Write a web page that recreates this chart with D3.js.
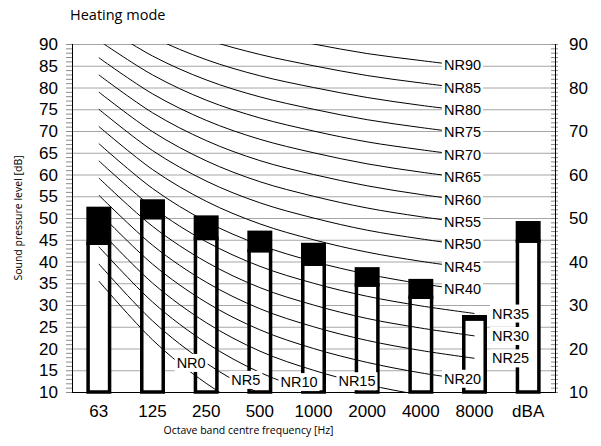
<!DOCTYPE html>
<html>
<head>
<meta charset="utf-8">
<script src="https://cdn.jsdelivr.net/npm/d3@7"></script>
<style>
  body { margin: 0; background: #fff; }
  svg { display: block; }
</style>
</head>
<body>
<div id="container"></div>
<script>
/* DATA */
const categories = ["63", "125", "250", "500", "1000", "2000", "4000", "8000", "dBA"];
const octaveBands = ["63", "125", "250", "500", "1000", "2000", "4000", "8000"];

// level without / with the black top section of each column
const lowerLevel = [44.2, 50.1, 45.3, 42.5, 39.4, 34.6, 31.8, 26.8, 44.7];
const upperLevel = [52.2, 53.9, 50.2, 46.7, 43.9, 38.3, 35.6, 27.3, 48.9];

// NR rating curves, octave band levels 63..8000 Hz
const nrNumbers = [0, 5, 10, 15, 20, 25, 30, 35, 40, 45, 50, 55, 60, 65, 70, 75, 80, 85, 90];
const nrLevels = [
  [35.5, 22.0, 12.0, 4.8, 0.0, -3.5, -6.1, -8.0],
  [39.45, 26.35, 16.65, 9.65, 5.0, 1.55, -0.95, -2.85],
  [43.4, 30.7, 21.3, 14.5, 10.0, 6.6, 4.2, 2.3],
  [47.35, 35.05, 25.95, 19.4, 15.0, 11.7, 9.3, 7.45],
  [51.3, 39.4, 30.6, 24.3, 20.0, 16.8, 14.4, 12.6],
  [55.25, 43.75, 35.25, 29.15, 25.0, 21.85, 19.55, 17.75],
  [59.2, 48.1, 39.9, 34.0, 30.0, 26.9, 24.7, 22.9],
  [63.15, 52.45, 44.55, 38.9, 35.0, 32.0, 29.8, 28.05],
  [67.1, 56.8, 49.2, 43.8, 40.0, 37.1, 34.9, 33.2],
  [71.05, 61.15, 53.85, 48.65, 45.0, 42.15, 40.05, 38.35],
  [75.0, 65.5, 58.5, 53.5, 50.0, 47.2, 45.2, 43.5],
  [78.95, 69.85, 63.15, 58.35, 55.0, 52.3, 50.3, 48.65],
  [82.9, 74.2, 67.8, 63.2, 60.0, 57.4, 55.4, 53.8],
  [86.85, 78.55, 72.45, 68.1, 65.0, 62.45, 60.55, 58.95],
  [90.8, 82.9, 77.1, 73.0, 70.0, 67.5, 65.7, 64.1],
  [94.75, 87.25, 81.75, 77.85, 75.0, 72.6, 70.8, 69.25],
  [98.7, 91.6, 86.4, 82.7, 80.0, 77.7, 75.9, 74.4],
  [102.65, 95.95, 91.05, 87.6, 85.0, 82.75, 81.05, 79.55],
  [106.6, 100.3, 95.7, 92.5, 90.0, 87.8, 86.2, 84.7]
];

// the low curves are labelled where they leave the chart: [band position, dB]
const lowLabelSpots = {0: [1.72, 16.7], 5: [2.74, 12.8], 10: [3.73, 12.3], 15: [4.81, 12.5]};
const rightSideLabels = [25, 30, 35];

const leftTicks = d3.range(10, 91, 5);
const rightTicks = d3.range(10, 91, 10);

/* CONSTANTS AND GLOBALS */
const width = 601,
  height = 446,
  margin = {top: 44, right: 46, bottom: 54, left: 72};

const svg = d3.select("#container")
  .append("svg")
  .attr("width", width)
  .attr("height", height);

// SCALES
const xScale = d3.scaleBand()
  .domain(categories)
  .range([margin.left, width - margin.right]);

const yScale = d3.scaleLinear()
  .domain([10, 90])
  .range([height - margin.bottom, margin.top]);

const bw = xScale.bandwidth();
const cx = c => xScale(c) + bw / 2;
const posX = i => margin.left + bw * (i + 0.5);

svg.append("clipPath").attr("id", "plot")
  .append("rect")
  .attr("x", margin.left).attr("y", margin.top)
  .attr("width", width - margin.left - margin.right)
  .attr("height", height - margin.top - margin.bottom);

// gridlines
svg.append("g")
  .selectAll("line")
  .data(leftTicks.filter(d => d > 10))
  .join("line")
  .attr("x1", margin.left).attr("x2", width - margin.right)
  .attr("y1", d => yScale(d) + 0.5).attr("y2", d => yScale(d) + 0.5)
  .attr("stroke", "#a6a6a6");

// minor ticks
const minor = d3.range(10, 91, 1);
svg.append("g")
  .selectAll("line")
  .data(minor)
  .join("line")
  .attr("x1", margin.left - 6).attr("x2", margin.left)
  .attr("y1", d => yScale(d) + 0.5).attr("y2", d => yScale(d) + 0.5)
  .attr("stroke", "#8c8c8c");
svg.append("g")
  .selectAll("line")
  .data(minor)
  .join("line")
  .attr("x1", width - margin.right - 4).attr("x2", width - margin.right + 3)
  .attr("y1", d => yScale(d) + 0.5).attr("y2", d => yScale(d) + 0.5)
  .attr("stroke", "#8c8c8c");

// columns
const barW = bw * 0.4;
const bars = svg.append("g");
bars.selectAll(".low")
  .data(categories)
  .join("rect")
  .attr("class", "low")
  .attr("x", c => cx(c) - barW / 2)
  .attr("width", barW)
  .attr("y", (c, i) => yScale(lowerLevel[i]))
  .attr("height", (c, i) => yScale(10) - yScale(lowerLevel[i]))
  .attr("fill", "#fff")
  .attr("stroke", "#000")
  .attr("stroke-width", 3.5);
bars.selectAll(".high")
  .data(categories)
  .join("rect")
  .attr("class", "high")
  .attr("x", c => cx(c) - barW / 2)
  .attr("width", barW)
  .attr("y", (c, i) => yScale(upperLevel[i]))
  .attr("height", (c, i) => yScale(lowerLevel[i]) - yScale(upperLevel[i]))
  .attr("fill", "#000")
  .attr("stroke", "#000")
  .attr("stroke-width", 3.5);

// NR curves
const line = d3.line()
  .x((d, i) => cx(octaveBands[i]))
  .y(d => yScale(d))
  .curve(d3.curveCardinal.tension(0));

svg.append("g")
  .attr("clip-path", "url(#plot)")
  .selectAll("path")
  .data(nrLevels)
  .join("path")
  .attr("d", line)
  .attr("fill", "none")
  .attr("stroke", "#000")
  .attr("stroke-width", 1);

// axes lines
svg.append("line")
  .attr("x1", margin.left + 0.5).attr("x2", margin.left + 0.5)
  .attr("y1", margin.top).attr("y2", yScale(10))
  .attr("stroke", "#000");
svg.append("line")
  .attr("x1", width - margin.right + 0.5).attr("x2", width - margin.right + 0.5)
  .attr("y1", margin.top).attr("y2", yScale(10))
  .attr("stroke", "#000");
svg.append("line")
  .attr("x1", margin.left).attr("x2", width - margin.right + 1)
  .attr("y1", yScale(10) + 0.5).attr("y2", yScale(10) + 0.5)
  .attr("stroke", "#000");

// NR labels
const labels = svg.append("g")
  .attr("font-family", "Liberation Sans, Arial, sans-serif")
  .attr("font-size", 14.5);

nrNumbers.forEach((nr, k) => {
  let x, y;
  const last = nrLevels[k][7];
  if (lowLabelSpots[nr]) {
    x = posX(lowLabelSpots[nr][0]);
    y = yScale(lowLabelSpots[nr][1]);
  } else if (rightSideLabels.includes(nr)) {
    x = cx("8000") + 36;
    y = yScale(last);
  } else {
    x = cx("8000") - 12;
    y = yScale(last) - 2;
  }
  const g = labels.append("g");
  const t = g.append("text")
    .attr("x", x).attr("y", y)
    .attr("text-anchor", "middle")
    .attr("dy", "0.35em")
    .text("NR" + nr);
  const b = t.node().getBBox();
  g.insert("rect", "text")
    .attr("x", b.x - 2).attr("y", b.y - 1)
    .attr("width", b.width + 4).attr("height", b.height + 2)
    .attr("fill", "#fff");
});

// tick labels
const tickFont = "Liberation Sans, Arial, sans-serif";
svg.append("g")
  .selectAll("text")
  .data(leftTicks)
  .join("text")
  .attr("x", margin.left - 14)
  .attr("y", d => yScale(d))
  .attr("dy", "0.36em")
  .attr("text-anchor", "end")
  .attr("font-family", tickFont)
  .attr("font-size", 17)
  .text(d => d);

svg.append("g")
  .selectAll("text")
  .data(rightTicks)
  .join("text")
  .attr("x", width - margin.right + 14)
  .attr("y", d => yScale(d))
  .attr("dy", "0.36em")
  .attr("text-anchor", "start")
  .attr("font-family", tickFont)
  .attr("font-size", 17)
  .text(d => d);

svg.append("g")
  .selectAll("text")
  .data(categories)
  .join("text")
  .attr("x", c => cx(c))
  .attr("y", yScale(10) + 25)
  .attr("text-anchor", "middle")
  .attr("font-family", tickFont)
  .attr("font-size", 17)
  .text(c => c);

// titles
svg.append("text")
  .attr("x", 70).attr("y", 20)
  .attr("font-family", "Open Sans, sans-serif")
  .attr("font-size", 14.5)
  .text("Heating mode");

svg.append("text")
  .attr("x", (margin.left + width - margin.right) / 2 - 65)
  .attr("y", height - 12)
  .attr("text-anchor", "middle")
  .attr("font-family", "Open Sans, sans-serif")
  .attr("font-size", 10.5)
  .text("Octave band centre frequency [Hz]");

svg.append("text")
  .attr("transform", `translate(22,${(margin.top + height - margin.bottom) / 2}) rotate(-90)`)
  .attr("text-anchor", "middle")
  .attr("font-family", "Open Sans, sans-serif")
  .attr("font-size", 10.5)
  .text("Sound pressure level [dB]");
</script>
</body>
</html>
